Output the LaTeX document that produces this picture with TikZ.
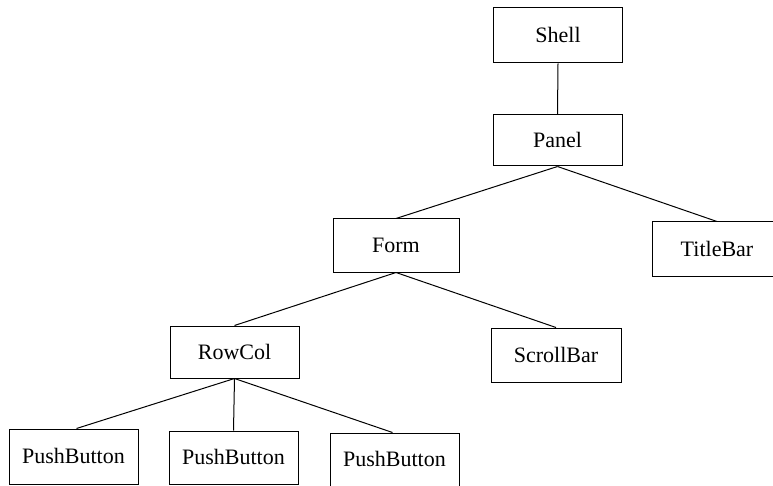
\documentclass[tikz,border=0pt]{standalone}
\usepackage{fontspec}
\setmainfont{Liberation Serif}
\begin{document}
\begin{tikzpicture}[x=1pt,y=-1pt,
  wbox/.style={draw=black, line width=1pt, minimum width=129pt, minimum height=53pt,
    inner sep=0pt, font=\fontsize{22}{24}\selectfont, text height=14.5pt, text depth=0pt},
  link/.style={draw=black, line width=1pt}]
\useasboundingbox (0,0) rectangle (773,486);
\node[wbox, minimum height=55pt] (shell) at (558,35.5) {Shell};
\node[wbox, minimum height=51pt] (panel) at (557.5,140.5) {Panel};
\node[wbox, minimum width=126pt] (form) at (396,245.5) {Form};
\node[wbox, minimum width=130pt, minimum height=54pt] (title) at (717,249) {TitleBar};
\node[wbox, minimum height=52pt] (rowcol) at (234.5,352) {RowCol};
\node[wbox, minimum width=130pt, minimum height=54pt] (scroll) at (556,355) {ScrollBar};
\node[wbox, minimum height=55pt] (pb1) at (73.5,456.5) {PushButton};
\node[wbox] (pb2) at (233.5,457.5) {PushButton};
\node[wbox] (pb3) at (394.5,459.5) {PushButton};
\draw[link] (shell.south) -- (panel.north);
\draw[link] (panel.south) -- (form.north);
\draw[link] (panel.south) -- (title.north);
\draw[link] (form.south) -- (rowcol.north);
\draw[link] (form.south) -- (scroll.north);
\draw[link] (rowcol.south) -- ([xshift=3pt]pb1.north);
\draw[link] (rowcol.south) -- (pb2.north);
\draw[link] (rowcol.south) -- ([xshift=-2pt]pb3.north);
\end{tikzpicture}
\end{document}
